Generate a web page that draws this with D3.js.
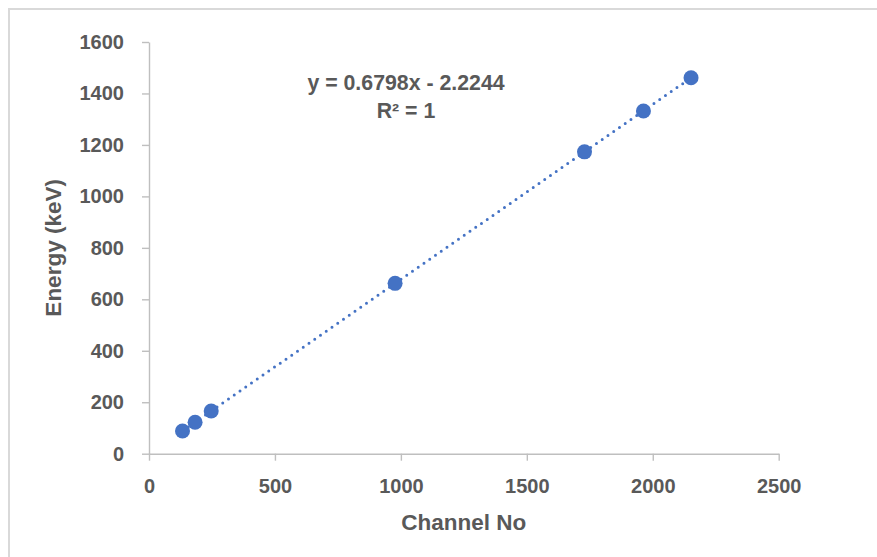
<!DOCTYPE html>
<html>
<head>
<meta charset="utf-8">
<script src="https://cdn.jsdelivr.net/npm/d3@7"></script>
<style>
  body { margin: 0; background: #fff; }
  svg { display: block; }
</style>
</head>
<body>
<script>
// calibration points
var channels = [133, 183, 247, 977, 1729, 1963, 2152];
var energies = [88, 122, 166, 662, 1173, 1332, 1461];
var xTicks = [0, 500, 1000, 1500, 2000, 2500];
var yTicks = [0, 200, 400, 600, 800, 1000, 1200, 1400, 1600];
var fitSlope = 0.6798;
var fitIntercept = -2.2244;
var fitLabels = ['y = 0.6798x - 2.2244', 'R² = 1'];

var width = 877;
var height = 557;
var margin = {left: 149, right: 100, top: 42, bottom: 104};
var textColor = '#595959';
var axisColor = '#bfbfbf';
var pointColor = '#4472c4';
var font = '"Liberation Sans", Arial, sans-serif';

var svg = d3.select('body')
    .append('svg')
    .attr('width', width)
    .attr('height', height);

// chart frame (only left/top edges are visible in the shot)
svg.append('rect')
    .attr('x', 9)
    .attr('y', 9)
    .attr('width', 1000)
    .attr('height', 1000)
    .attr('fill', 'none')
    .attr('stroke', '#d9d9d9')
    .attr('stroke-width', 2);

var x = d3.scaleLinear()
    .domain([0, 2500])
    .range([margin.left, width - margin.right + 1.7]);

var y = d3.scaleLinear()
    .domain([0, 1600])
    .range([height - margin.bottom + 0.7, margin.top]);

var xAxis = svg.append('g')
    .attr('transform', 'translate(0,' + y(0) + ')')
    .call(d3.axisBottom(x).tickValues(xTicks).tickFormat(d3.format('d'))
        .tickSize(7).tickSizeOuter(0).tickPadding(18));

var yAxis = svg.append('g')
    .attr('transform', 'translate(' + x(0) + ',0)')
    .call(d3.axisLeft(y).tickValues(yTicks).tickFormat(d3.format('d'))
        .tickSize(7).tickSizeOuter(0).tickPadding(18));

[xAxis, yAxis].forEach(function(g) {
    g.select('.domain').attr('stroke', axisColor).attr('stroke-width', 1.4);
    g.selectAll('.tick line').attr('stroke', axisColor).attr('stroke-width', 1.4);
    g.selectAll('.tick text')
        .attr('fill', textColor)
        .style('font-family', font)
        .style('font-weight', 'bold')
        .style('font-size', '20px');
});

// trendline over the data range
var xs = d3.extent(channels);
svg.append('line')
    .attr('x1', x(xs[0]))
    .attr('y1', y(fitSlope * xs[0] + fitIntercept))
    .attr('x2', x(xs[1]))
    .attr('y2', y(fitSlope * xs[1] + fitIntercept))
    .attr('stroke', pointColor)
    .attr('stroke-width', 3)
    .attr('stroke-linecap', 'round')
    .attr('stroke-dasharray', '0,7');

svg.append('g')
    .selectAll('circle')
    .data(channels)
    .join('circle')
    .attr('cx', function(d) { return x(d); })
    .attr('cy', function(d, i) { return y(energies[i]); })
    .attr('r', 7.5)
    .attr('fill', pointColor);

// equation label
svg.append('g')
    .selectAll('text')
    .data(fitLabels)
    .join('text')
    .attr('x', 406)
    .attr('y', function(d, i) { return 90 + i * 28; })
    .attr('text-anchor', 'middle')
    .attr('fill', textColor)
    .style('font-family', font)
    .style('font-weight', 'bold')
    .style('font-size', '21.3px')
    .text(function(d) { return d; });

// axis titles
svg.append('text')
    .attr('x', (x(0) + x(2500)) / 2)
    .attr('y', 530)
    .attr('text-anchor', 'middle')
    .attr('fill', textColor)
    .style('font-family', font)
    .style('font-weight', 'bold')
    .style('font-size', '22.5px')
    .text('Channel No');

svg.append('text')
    .attr('transform', 'translate(61,' + (y(0) + y(1600)) / 2 + ') rotate(-90)')
    .attr('text-anchor', 'middle')
    .attr('fill', textColor)
    .style('font-family', font)
    .style('font-weight', 'bold')
    .style('font-size', '22.5px')
    .text('Energy (keV)');
</script>
</body>
</html>
